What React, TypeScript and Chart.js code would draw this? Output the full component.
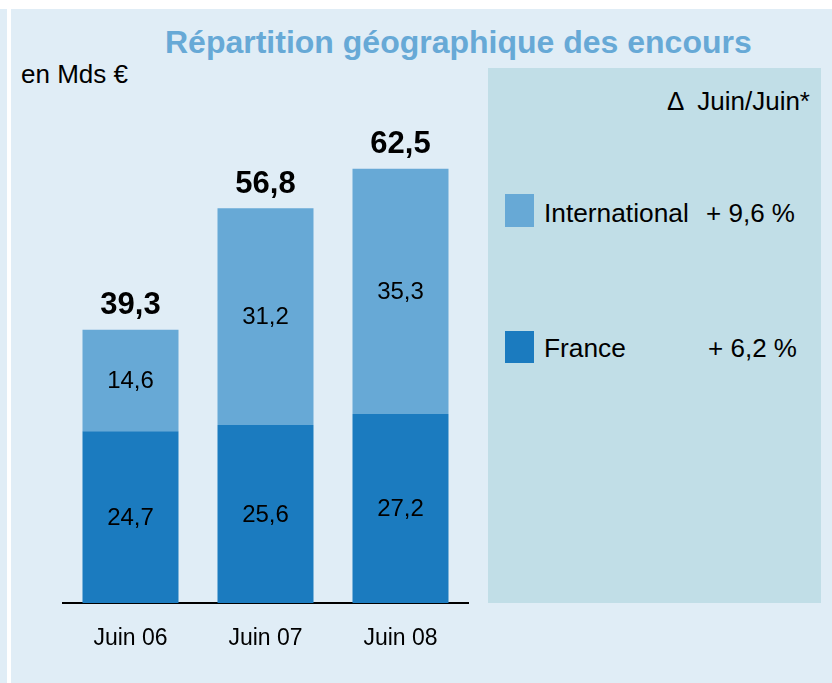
import React, { useEffect, useRef } from "react";
import { Chart, registerables } from "chart.js";

Chart.register(...registerables);

const categories = ["Juin 06", "Juin 07", "Juin 08"];
const seriesNames = ["France", "International"];
const franceValues = [24.7, 25.6, 27.2];
const internationalValues = [14.6, 31.2, 35.3];
const totalValues = [39.3, 56.8, 62.5];
const seriesColors = ["#1b7bbf", "#67a9d6"];
const changeLabels = ["+ 6,2 %", "+ 9,6 %"];
const unitLabel = "en Mds €";
const titleText = "Répartition géographique des encours";
const legendHeader = "Δ  Juin/Juin*";

const FONT = "'Liberation Sans', Arial, Helvetica, sans-serif";
const BG = "#e0edf6";
const PANEL = "#c1dee7";

const fmt = (v: number) => v.toFixed(1).replace(".", ",");

const labelsPlugin = {
  id: "segLabels",
  afterDatasetsDraw(chart: any) {
    const ctx = chart.ctx;
    ctx.save();
    ctx.fillStyle = "#000";
    ctx.textAlign = "center";
    ctx.textBaseline = "alphabetic";
    const n = chart.data.datasets.length;
    chart.data.datasets.forEach((ds: any, di: number) => {
      const meta = chart.getDatasetMeta(di);
      meta.data.forEach((el: any, i: number) => {
        const F = 24;
        ctx.font = `normal ${F}px ${FONT}`;
        const mid = (el.y + el.base) / 2 - 1;
        ctx.fillText(fmt(ds.data[i]), el.x, mid + 0.358 * F);
        if (di === n - 1) {
          const FB = 31;
          ctx.font = `bold ${FB}px ${FONT}`;
          ctx.fillText(fmt(totalValues[i]), el.x, el.y - 15.5);
        }
      });
    });
    ctx.restore();
  },
};

function ChartCanvas() {
  const ref = useRef<HTMLCanvasElement>(null);
  useEffect(() => {
    if (!ref.current) return;
    const chart = new Chart(ref.current, {
      type: "bar",
      data: {
        labels: categories,
        datasets: [
          {
            label: seriesNames[0],
            data: franceValues,
            backgroundColor: seriesColors[0],
            borderWidth: 0,
          },
          {
            label: seriesNames[1],
            data: internationalValues,
            backgroundColor: seriesColors[1],
            borderWidth: 0,
          },
        ],
      },
      options: {
        animation: false,
        responsive: false,
        maintainAspectRatio: false,
        devicePixelRatio: 1,
        layout: { padding: { left: 63, right: 364, top: 47, bottom: 0 } },
        datasets: { bar: { barPercentage: 0.711, categoryPercentage: 1 } },
        plugins: {
          legend: { display: false },
          tooltip: { enabled: false },
          title: { display: false },
        },
        scales: {
          x: {
            stacked: true,
            grid: { display: false, drawTicks: false },
            border: { display: true, color: "#000", width: 2 },
            ticks: {
              color: "#000",
              font: { family: FONT, size: 23 },
              padding: 21.5,
            },
            afterFit: (scale: any) => {
              scale.height = 80;
            },
          },
          y: {
            stacked: true,
            display: false,
            min: 0,
            max: 80,
          },
        },
      },
      plugins: [labelsPlugin],
    });
    return () => chart.destroy();
  }, []);
  return (
    <canvas
      ref={ref}
      width={832}
      height={683}
      style={{ position: "absolute", left: 0, top: 0, width: 832, height: 683 }}
    />
  );
}

const txt = (extra: React.CSSProperties): React.CSSProperties => ({
  position: "absolute",
  fontFamily: FONT,
  lineHeight: 1,
  whiteSpace: "nowrap",
  color: "#000",
  ...extra,
});

export default function App() {
  return (
    <div
      style={{
        position: "fixed",
        left: 0,
        top: 0,
        width: 832,
        height: 683,
        background: "#fff",
        overflow: "hidden",
      }}
    >
      <div style={{ position: "absolute", left: 0, top: 9, width: 7, bottom: 0, background: BG }} />
      <div style={{ position: "absolute", left: 11, top: 9, right: 0, bottom: 0, background: BG }} />
      <div style={{ position: "absolute", left: 488, top: 68, width: 333, height: 535, background: PANEL }} />
      <div style={txt({ left: 165, top: 25.5, fontSize: 32, fontWeight: "bold", color: "#67a9d6" })}>{titleText}</div>
      <div style={txt({ left: 21, top: 60.5, fontSize: 26 })}>{unitLabel}</div>
      <div style={txt({ right: 22, top: 88, fontSize: 26, whiteSpace: "pre" })}>{legendHeader}</div>
      <div style={{ position: "absolute", left: 505, top: 194, width: 29, height: 33, background: seriesColors[1] }} />
      <div style={txt({ left: 544, top: 200, fontSize: 26.3 })}>{seriesNames[1]}</div>
      <div style={txt({ right: 37, top: 200, fontSize: 26 })}>{changeLabels[1]}</div>
      <div style={{ position: "absolute", left: 505, top: 331, width: 29, height: 32, background: seriesColors[0] }} />
      <div style={txt({ left: 544, top: 335, fontSize: 26.3 })}>{seriesNames[0]}</div>
      <div style={txt({ right: 35, top: 335, fontSize: 26 })}>{changeLabels[0]}</div>
      <ChartCanvas />
    </div>
  );
}
